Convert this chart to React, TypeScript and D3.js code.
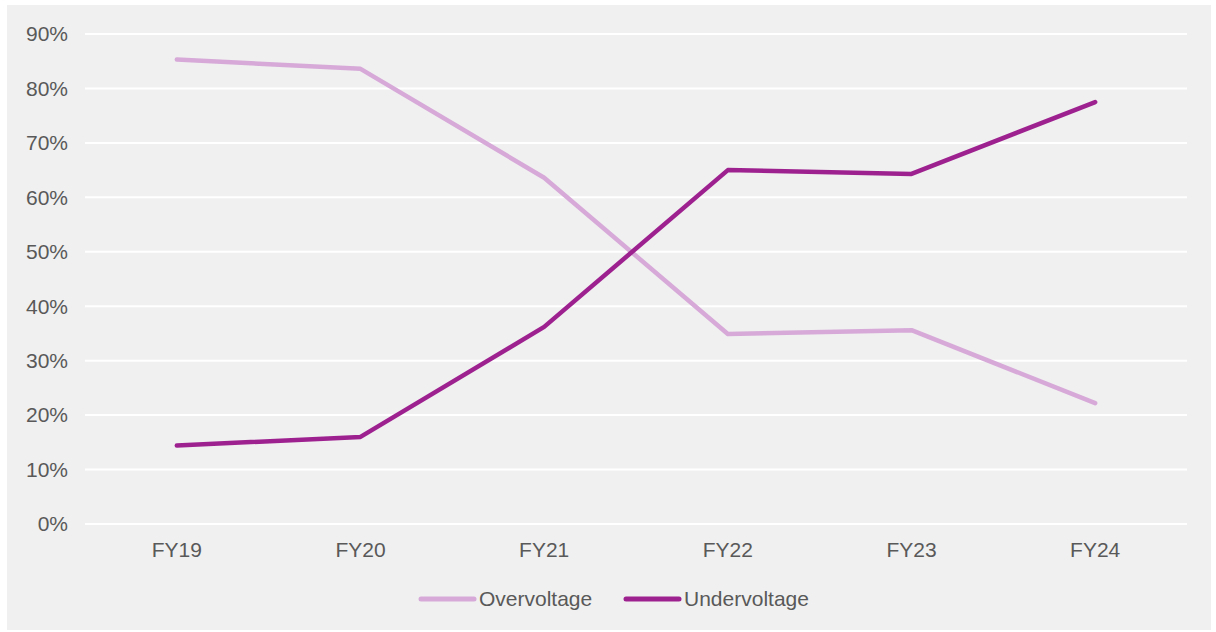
import React from "react";
import * as d3 from "d3";

const categories = ["FY19", "FY20", "FY21", "FY22", "FY23", "FY24"];
const overvoltage = [85.3, 83.6, 63.6, 34.9, 35.6, 22.2];
const undervoltage = [14.4, 16.0, 36.2, 65.0, 64.3, 77.5];
const yTicks = [0, 10, 20, 30, 40, 50, 60, 70, 80, 90];

const W = 1216;
const H = 632;
const plot = { left: 85, right: 1187, top: 34, bottom: 524 };

export default function App() {
  const x = d3.scaleBand<string>().domain(categories).range([plot.left, plot.right]);
  const y = d3.scaleLinear().domain([0, 90]).range([plot.bottom, plot.top]);
  const cx = (c: string) => (x(c) ?? 0) + x.bandwidth() / 2;
  const line = d3
    .line<number>()
    .x((_, i) => cx(categories[i]))
    .y((d) => y(d));
  const font = "'Liberation Sans', Arial, sans-serif";
  const fs = 21;
  const series = [
    { name: "Overvoltage", values: overvoltage, color: "#d6a9d8" },
    { name: "Undervoltage", values: undervoltage, color: "#9e2190" },
  ];
  const legendY = 599;
  const legendItems = [
    { x: 419, ...series[0] },
    { x: 624, ...series[1] },
  ];
  return (
    <svg
      width={W}
      height={H}
      style={{ position: "fixed", left: 0, top: 0, background: "#ffffff" }}
      fontFamily={font}
    >
      <rect x={7} y={5} width={1204} height={625} fill="#f0f0f0" />
      {yTicks.map((t) => (
        <g key={t}>
          <line x1={plot.left} x2={plot.right} y1={y(t)} y2={y(t)} stroke="#ffffff" strokeWidth={2} />
          <text x={68} y={y(t)} dy="0.35em" textAnchor="end" fontSize={fs} fill="#595959">
            {t}%
          </text>
        </g>
      ))}
      {categories.map((c) => (
        <text key={c} x={cx(c)} y={550} dy="0.35em" textAnchor="middle" fontSize={fs} fill="#595959">
          {c}
        </text>
      ))}
      {series.map((s) => (
        <path
          key={s.name}
          d={line(s.values) ?? ""}
          fill="none"
          stroke={s.color}
          strokeWidth={4.5}
          strokeLinejoin="round"
          strokeLinecap="round"
        />
      ))}
      {legendItems.map((l) => (
        <g key={l.name}>
          <line x1={l.x + 2} x2={l.x + 55} y1={legendY} y2={legendY} stroke={l.color} strokeWidth={5} strokeLinecap="round" />
          <text x={l.x + 60} y={legendY} dy="0.35em" fontSize={fs} fill="#595959">
            {l.name}
          </text>
        </g>
      ))}
    </svg>
  );
}
